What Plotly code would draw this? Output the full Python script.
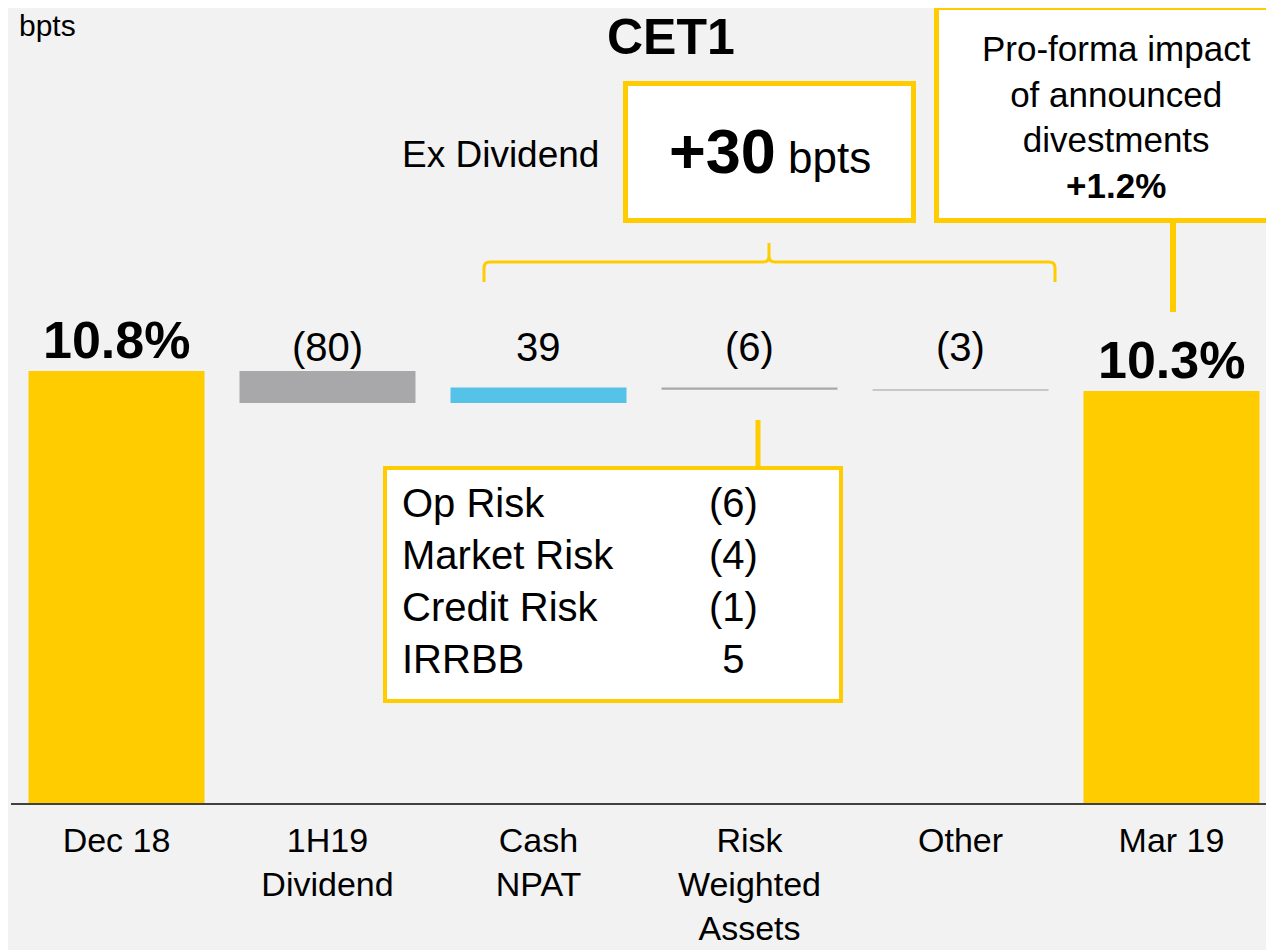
import plotly.graph_objects as go

# ---- data (bpts) ----
categories = ["Dec 18", "1H19<br>Dividend", "Cash<br>NPAT", "Risk<br>Weighted<br>Assets", "Other", "Mar 19"]
cet1_start = 1080          # 10.8%
cet1_end = 1030            # 10.3%
movements = [-80, 39, -6, -3]
movement_labels = ["(80)", "39", "(6)", "(3)"]
total_labels = ["10.8%", "10.3%"]
rwa_items = ["Op Risk", "Market Risk", "Credit Risk", "IRRBB"]
rwa_values = ["(6)", "(4)", "(1)", "5"]
ex_div_bpts = "+30"
divest_impact = "+1.2%"

bar_colors = ["#FFCC00", "#A8A8AA", "#55C2E8", "#A8A8AA", "#C8C8C8", "#FFCC00"]
YELLOW = "#FFCC00"
FONT = "Liberation Sans, Arial, sans-serif"

# waterfall bases / heights
base, height = [0], [cet1_start]
run = cet1_start
for m in movements:
    base.append(min(run, run + m))
    height.append(abs(m))
    run += m
base.append(0)
height.append(cet1_end)

# plot geometry (page has an 8px body margin, so work in page pixels)
OFF = 8
W, H = 1274 - OFF, 950 - OFF
L, T, B = 3, 0, 147
PW, PH = W - L, H - T - B
PX_PER_BPT = 0.4
CAT_PX = 211


def px(x):
    return (x - OFF - L) / PW


def py(y):
    return (OFF + T + PH - y) / PH


fig = go.Figure()
fig.add_trace(go.Bar(x=categories, y=height, base=base, width=0.834,
                     marker=dict(color=bar_colors, line=dict(width=0)),
                     hoverinfo="skip"))

# value labels
ann = []
ann.append(dict(x=categories[0], y=cet1_start, text="<b>" + total_labels[0] + "</b>",
                font=dict(size=52)))
ann.append(dict(x=categories[-1], y=cet1_end, text="<b>" + total_labels[1] + "</b>",
                font=dict(size=52)))
for cat, lab in zip(categories[1:-1], movement_labels):
    ann.append(dict(x=cat, y=cet1_start, text=lab, font=dict(size=40)))
for a in ann:
    a.update(xref="x", yref="y", showarrow=False, yanchor="bottom", xanchor="center")
    a["font"].update(family=FONT, color="black")
    fig.add_annotation(**a)


def text(x, y, s, size, xanchor="center", yanchor="middle", align="center"):
    fig.add_annotation(xref="paper", yref="paper", x=px(x), y=py(y), text=s,
                       showarrow=False, xanchor=xanchor, yanchor=yanchor, align=align,
                       font=dict(family=FONT, size=size, color="black"))


def rect(x0, y0, x1, y1, w):
    fig.add_shape(type="rect", xref="paper", yref="paper",
                  x0=px(x0), x1=px(x1), y0=py(y0), y1=py(y1),
                  fillcolor="white", line=dict(color=YELLOW, width=w))


def vline(x, y0, y1, w):
    fig.add_shape(type="line", xref="paper", yref="paper",
                  x0=px(x), x1=px(x), y0=py(y0), y1=py(y1),
                  line=dict(color=YELLOW, width=w))


text(17, 26, "bpts", 30, xanchor="left")
text(671, 37, "<b>CET1</b>", 50)
text(601, 155, "Ex Dividend", 37, xanchor="right")

# +30 bpts box
rect(625.5, 83.5, 913.5, 220.5, 5)
text(770, 151, "<span style='font-size:63px'><b>" + ex_div_bpts + "</b></span> bpts", 44)

# brace
pts = [("M", 484, 282), ("L", 484, 268), ("Q", 484, 262, 490, 262), ("L", 763, 262),
       ("Q", 769, 262, 769, 256), ("L", 769, 243), ("M", 769, 256),
       ("Q", 769, 262, 775, 262), ("L", 1049, 262), ("Q", 1055, 262, 1055, 268),
       ("L", 1055, 282)]
path = ""
for p in pts:
    cmd, coords = p[0], p[1:]
    path += cmd + " " + " ".join(
        f"{px(coords[i]):.5f},{py(coords[i + 1]):.5f}" for i in range(0, len(coords), 2)) + " "
fig.add_shape(type="path", xref="paper", yref="paper", path=path.strip(),
              line=dict(color=YELLOW, width=3))

# divestments box
rect(936.5, 7.5, 1300, 220.5, 5)
vline(1173, 221, 312, 6)
text(1116, 117, "Pro-forma impact<br>of announced<br>divestments<br><b>" + divest_impact + "</b>", 35)

# RWA breakdown box
vline(758, 420, 467, 5)
rect(385, 468, 841, 701, 4)
text(400, 581, "<br>".join(rwa_items), 40, xanchor="left", align="left")
text(733, 581, "<br>".join(rwa_values), 40)

fig.update_layout(
    width=W, height=H,
    margin=dict(l=L, r=0, t=T, b=B),
    paper_bgcolor="#F2F2F2", plot_bgcolor="#F2F2F2",
    showlegend=False,
    font=dict(family=FONT, color="black"),
    xaxis=dict(range=[-0.5, -0.5 + PW / CAT_PX], showline=True, linecolor="#404040",
               linewidth=2, showgrid=False, zeroline=False, ticks="",
               ticklabelstandoff=6, automargin=False,
               tickfont=dict(size=34, color="black", family=FONT)),
    yaxis=dict(visible=False, range=[0, PH / PX_PER_BPT], automargin=False),
)

fig.write_html("out.html")
